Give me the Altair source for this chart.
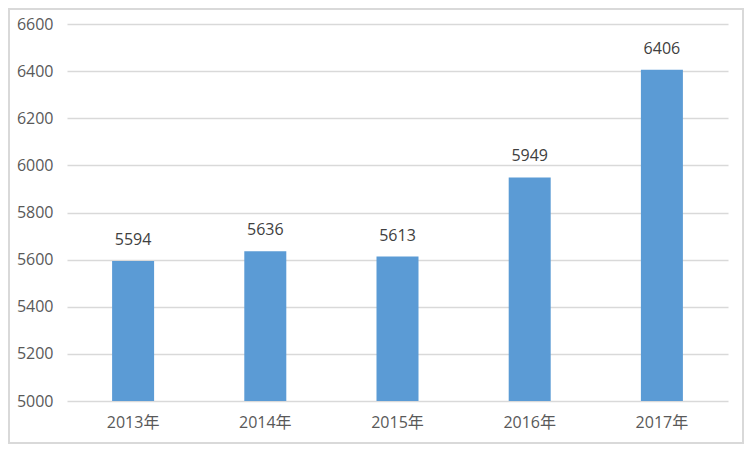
import altair as alt
import pandas as pd

years = ["2013年", "2014年", "2015年", "2016年", "2017年"]
values = [5594, 5636, 5613, 5949, 6406]
y_ticks = [5000, 5200, 5400, 5600, 5800, 6000, 6200, 6400, 6600]

df = pd.DataFrame({"year": years, "value": values})

font = "Open Sans, Noto Sans CJK SC"
text_color = "#595959"

base = alt.Chart(df).encode(
    x=alt.X("year:N", sort=years, title=None,
            scale=alt.Scale(paddingInner=0, paddingOuter=0),
            axis=alt.Axis(labelAngle=0, ticks=False, domain=False, grid=False,
                          labelPadding=13, labelFont=font, labelFontSize=16,
                          labelColor=text_color)),
)

bars = base.mark_bar(color="#5B9BD5", size=42).encode(
    y=alt.Y("value:Q", title=None,
            scale=alt.Scale(domain=[5000, 6600], zero=False, nice=False),
            axis=alt.Axis(values=y_ticks, format="d", ticks=False, domain=False,
                          gridColor="#D9D9D9", gridWidth=1.3,
                          labelPadding=14, labelFont=font, labelFontSize=16,
                          labelColor=text_color)),
    y2=alt.datum(5000),
)

labels = base.mark_text(baseline="alphabetic", dy=-16, font=font, fontSize=16,
                        color="#404040").encode(
    y="value:Q",
    text="value:Q",
)

border = alt.Chart(df).mark_rect(fill=None, stroke="#D9D9D9", strokeWidth=2).encode(
    x=alt.value(-58), x2=alt.value(676),
    y=alt.value(-15), y2=alt.value(419),
)

chart = alt.layer(bars, labels, border).properties(
    width=661, height=377,
    autosize=alt.AutoSizeParams(type="none"),
    padding={"left": 59, "top": 16, "right": 16, "bottom": 43},
).configure_view(stroke=None)

chart.save("out.html", embed_options={"renderer": "svg", "actions": False})
